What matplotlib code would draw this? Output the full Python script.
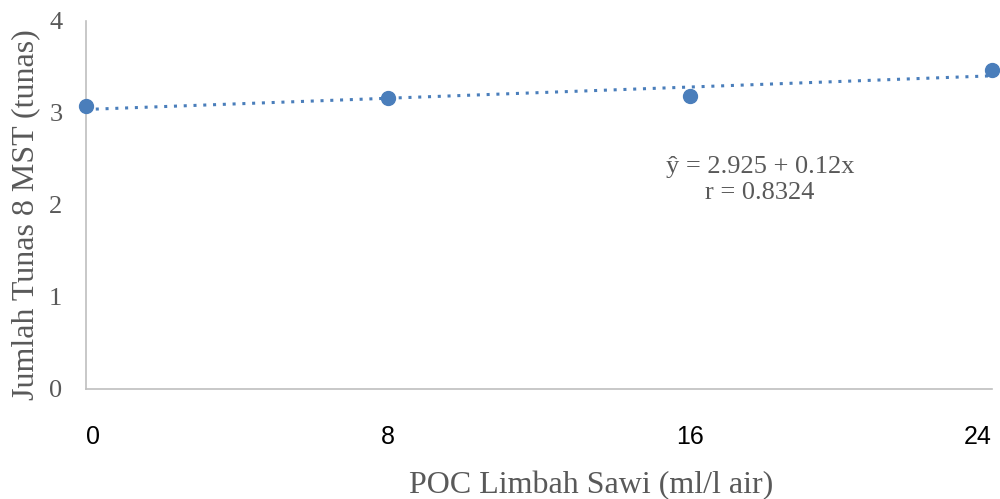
import numpy as np
import matplotlib
matplotlib.use("Agg")
import matplotlib.pyplot as plt

x_vals = [0, 8, 16, 24]
y_vals = [3.07, 3.16, 3.18, 3.47]
x_tick_labels = ["0", "8", "16", "24"]
y_ticks = [0, 1, 2, 3, 4]
equation_text = "ŷ = 2.925 + 0.12x\nr = 0.8324"
x_label = "POC Limbah Sawi (ml/l air)"
y_label = "Jumlah Tunas 8 MST (tunas)"

color = "#4A7EBB"
gray = "#595959"
serif = ["Liberation Serif", "DejaVu Serif"]
narrow = ["Liberation Sans Narrow", "Liberation Sans", "DejaVu Sans"]

fig = plt.figure(figsize=(10, 4.99), dpi=100)
ax = fig.add_axes([0.086, 0.2214, 0.906, 0.7366])

ax.plot(x_vals, y_vals, "o", color=color, markersize=10, zorder=3, clip_on=False)
coef = np.polyfit(x_vals, y_vals, 1)
xs = np.array([min(x_vals), max(x_vals)])
ax.plot(xs, np.polyval(coef, xs), linestyle=(0, (1, 2.2)), color=color, linewidth=2.2,
        zorder=2, clip_on=False)

ax.set_xlim(0, 24)
ax.set_ylim(0, 4)
ax.set_xticks(x_vals)
ax.set_xticklabels(x_tick_labels, fontfamily=narrow, fontsize=18, color="black")
labels = ax.get_xticklabels()
labels[0].set_ha("left")
labels[-1].set_ha("right")
ax.set_yticks(y_ticks)
ax.set_yticklabels([str(v) for v in y_ticks], fontfamily=serif, fontsize=19, color=gray)
ax.tick_params(axis="x", length=0, pad=26)
ax.tick_params(axis="y", length=0, pad=17)

for s in ["top", "right"]:
    ax.spines[s].set_visible(False)
for s in ["left", "bottom"]:
    ax.spines[s].set_color("#BFBFBF")
    ax.spines[s].set_linewidth(1.2)

ax.set_xlabel(x_label, fontfamily=serif, fontsize=23, color=gray)
ax.set_ylabel(y_label, fontfamily=serif, fontsize=23, color=gray)
ax.xaxis.set_label_coords(0.557, -0.224)
ax.yaxis.set_label_coords(-0.051, 0.472)

ax.text(17.85, 2.27, equation_text, ha="center", va="center", fontfamily=serif,
        fontsize=19, color=gray, linespacing=1.2)

fig.savefig("out.png", dpi=100, facecolor="white")
